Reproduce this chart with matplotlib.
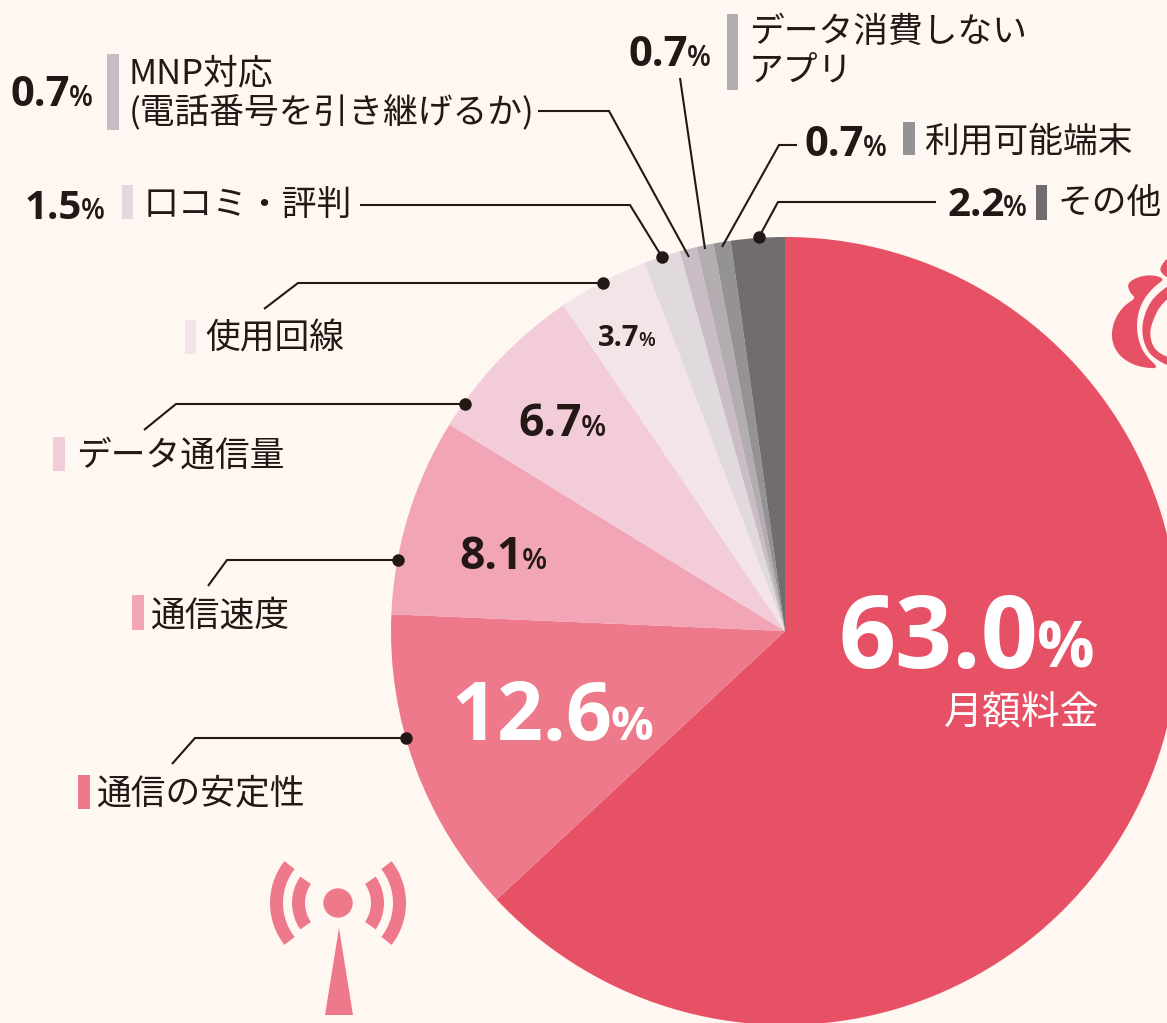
import numpy as np
import matplotlib
matplotlib.use("Agg")
import matplotlib.pyplot as plt
from matplotlib.patches import Wedge, Circle, Polygon, Rectangle

W, H = 1167, 1023
BG = "#fff7f2"
INK = "#231815"

# clockwise from 12 o'clock
labels = ["月額料金", "通信の安定性", "通信速度", "データ通信量", "使用回線", "口コミ・評判",
          "MNP対応\n(電話番号を引き継げるか)", "データ消費しない\nアプリ", "利用可能端末", "その他"]
values = [63.0, 12.6, 8.1, 6.7, 3.7, 1.5, 0.7, 0.7, 0.7, 2.2]
colors = ["#e75165", "#ee798a", "#f1a5b6", "#f2ccd8", "#f3e4e8", "#e0d9de",
          "#c9bcc5", "#b3acb1", "#959295", "#716c6e"]

plt.rcParams["font.family"] = ["Noto Sans CJK JP", "DejaVu Sans"]
NUM = ["Open Sans", "Noto Sans CJK JP"]

fig = plt.figure(figsize=(W / 100, H / 100), dpi=100, facecolor=BG)
ax = fig.add_axes([0, 0, 1, 1])
CX, CY, R = 785, 631, 394


def Y(y):
    return H - y


ax.pie(values, colors=colors, startangle=90, counterclock=False, center=(CX, Y(CY)), radius=R,
       wedgeprops={"linewidth": 0})
ax.set_xlim(0, W); ax.set_ylim(0, H); ax.set_aspect("auto"); ax.axis("off")


def pct(x, y, num, size, psize, color=INK, pweight=600):
    # number + smaller % sign on one baseline, x is the left edge of the number
    t = ax.text(x, Y(y), num, fontsize=size, fontweight="bold", family=NUM, color=color, va="baseline", ha="left")
    bb = t.get_window_extent(fig.canvas.get_renderer())
    ax.text(bb.x1 - 1, Y(y), "%", fontsize=psize, fontweight=pweight, family=NUM, color=color, va="baseline", ha="left")


def line(xs, ys, dot=False):
    ax.plot(xs, [Y(v) for v in ys], color=INK, lw=1.5, solid_capstyle="butt", solid_joinstyle="miter", zorder=5)
    if dot:
        ax.plot(xs[-1], Y(ys[-1]), "o", color=INK, ms=9, mew=0, zorder=6)


def bar(x, y0, y1, w, color):
    ax.add_patch(Rectangle((x, Y(y1)), w, y1 - y0, fc=color, ec="none"))


def label(x, y, s, size=25):
    ax.text(x, Y(y), s, fontsize=size, color=INK, va="center", ha="left", linespacing=1.12)


def smooth(pts, n=2):
    # corner cutting, the bag outline is only rough points
    p = np.array(pts, float)
    for _ in range(n):
        q = np.roll(p, -1, axis=0)
        p = np.column_stack([0.75 * p + 0.25 * q, 0.25 * p + 0.75 * q]).reshape(-1, 2)
    return p


# numbers inside the pie
pct(838, 668, "63.0", 72, 46, "white", "bold")
ax.text(1099, Y(713), labels[0], fontsize=28, color="white", ha="right", va="center")
pct(451, 740, "12.6", 58, 34, "white", "bold")
pct(459, 569, "8.1", 32, 21)
pct(518, 436, "6.7", 32, 21)
pct(598, 346, "3.7", 21, 14)

# leaders + legend blocks, left side
line([172, 195, 406], [764, 738, 738], True)
bar(78, 775, 809, 12, colors[1]); label(97, 794, labels[1])
line([208, 227, 398], [586, 560, 560], True)
bar(132, 595, 630, 12, colors[2]); label(151, 616, labels[2])
line([144, 176, 465], [430, 404, 404], True)
bar(53, 437, 471, 12, colors[3]); label(76, 456, labels[3])
line([264, 298, 603], [309, 283, 283], True)
bar(185, 320, 354, 11, colors[4]); label(205, 339, labels[4])

line([360, 630, 662], [205, 205, 257], True)
pct(25, 219, "1.5", 29, 20)
bar(122, 185, 219, 11, colors[5]); label(144, 205, labels[5])

line([538, 609, 689], [111, 111, 257])
pct(10, 106, "0.7", 30, 20)
bar(107, 54, 130, 12, colors[6]); label(129, 93, labels[6])

# top right labels
line([680, 705], [78, 249])
pct(628, 66, "0.7", 30, 20)
bar(727, 14, 90, 11, colors[7]); label(749, 52, labels[7])

line([797, 779, 722], [145, 145, 247])
pct(804, 156, "0.7", 30, 20)
bar(903, 122, 155, 12, colors[8]); label(924, 142, labels[8])

line([936, 778, 759], [202, 202, 237], True)
pct(947, 216, "2.2", 29, 20)
bar(1036, 185, 220, 11, colors[9]); label(1057, 204, labels[9])

# antenna icon
ant = colors[1]
ax.add_patch(Circle((338, Y(903)), 14.7, fc=ant, ec="none"))
ax.add_patch(Polygon([(339, Y(928)), (325, Y(1015)), (353, Y(1015))], fc=ant, ec="none"))
for r_in, r_out, a in [(33, 46, 35), (55, 68, 38)]:
    ax.add_patch(Wedge((338, Y(903)), r_out, 180 - a, 180 + a, width=r_out - r_in, fc=ant, ec="none"))
    ax.add_patch(Wedge((338, Y(903)), r_out, -a, a, width=r_out - r_in, fc=ant, ec="none"))

# money bag icon, cut by the right edge
bag = colors[0]
bag_body = [(1127, 283), (1140, 276), (1154, 275), (1165, 279), (1155, 286), (1146, 296), (1140, 307), (1137, 320),
            (1137, 332), (1140, 345), (1146, 356), (1160, 369), (1140, 367), (1128, 362), (1118, 354), (1112, 342),
            (1112, 328), (1117, 315), (1125, 305), (1136, 298), (1130, 293)]
bag_inner = [(1172, 283), (1156, 295), (1148, 306), (1143, 320), (1142, 333), (1145, 346), (1152, 357), (1172, 368),
             (1172, 359), (1157, 352), (1151, 342), (1150, 330), (1154, 318), (1160, 306), (1172, 295)]
bag_tip = [(1159, 268), (1170, 255), (1172, 280), (1163, 275)]
for pts in [bag_body, bag_inner, bag_tip]:
    ax.add_patch(Polygon([(x, Y(y)) for x, y in smooth(pts)], fc=bag, ec="none"))

fig.savefig("out.png", dpi=100, facecolor=BG)
